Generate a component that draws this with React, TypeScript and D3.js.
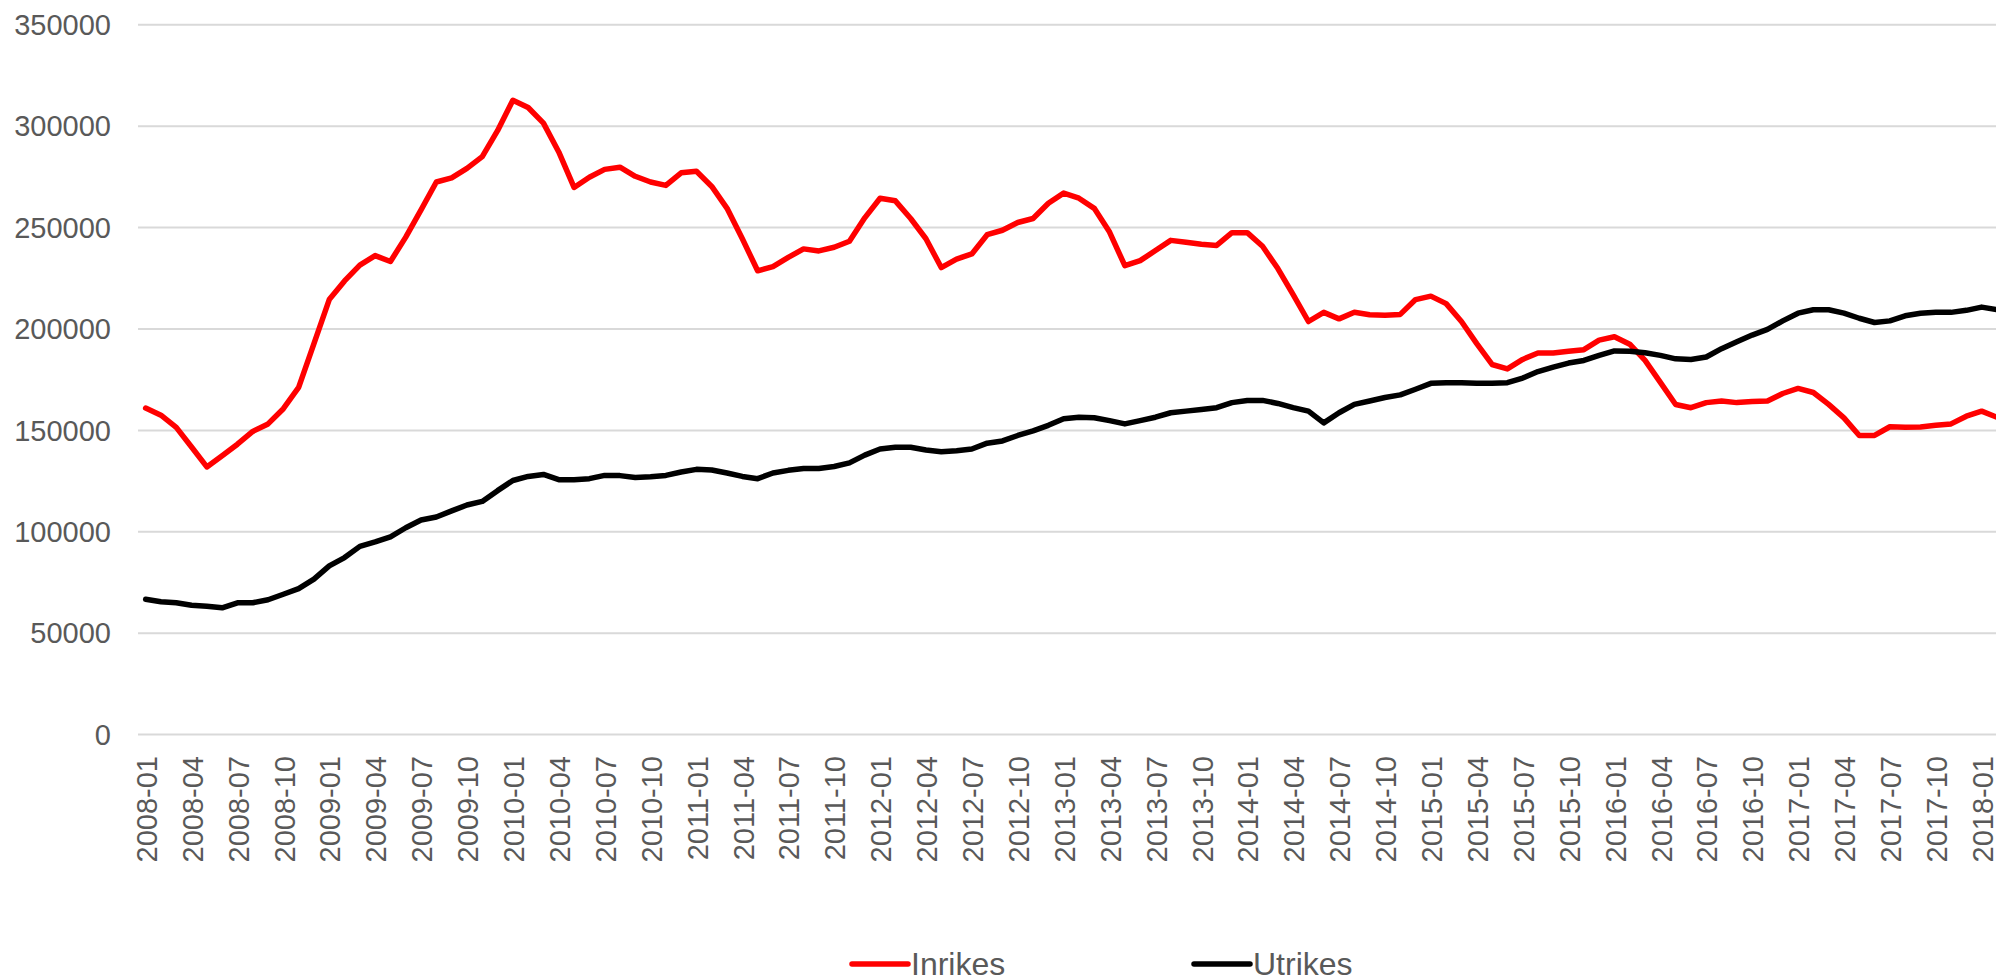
import React from "react";
import * as d3 from "d3";

const startYear = 2008;
const months: string[] = d3.range(122).map((i) => {
  const y = startYear + Math.floor(i / 12);
  const m = (i % 12) + 1;
  return `${y}-${m < 10 ? "0" + m : m}`;
});

const inrikes: number[] = [
  161000, 157500, 151500, 141800, 132000, 137500, 143200, 149500, 153200, 160700, 171200, 192800,
  214500, 223700, 231500, 236200, 233300, 245300, 258700, 272500, 274500, 279200, 285000, 297800,
  312800, 309200, 301500, 287300, 269800, 274800, 278700, 279800, 275300, 272500, 270800, 277000,
  277800, 270300, 259500, 244500, 228700, 230800, 235300, 239500, 238500, 240300, 243300, 254800,
  264500, 263200, 254500, 244500, 230300, 234500, 237000, 246500, 248700, 252500, 254500, 262000,
  267000, 264500, 259500, 247800, 231200, 233700, 238700, 243700, 242800, 241800, 241200, 247500,
  247500, 240800, 229800, 217000, 203700, 208200, 205000, 208300, 207000, 206800, 207200, 214500,
  216200, 212500, 203700, 192800, 182500, 180300, 185000, 188200, 188200, 189000, 189800, 194500,
  196200, 192500, 184500, 173700, 162800, 161200, 163700, 164500, 163700, 164200, 164500, 168200,
  170700, 168700, 162800, 156200, 147500, 147500, 151800, 151500, 151700, 152500, 153200, 157000,
  159500, 156500,
];

const utrikes: number[] = [
  66700, 65500, 65000, 63800, 63300, 62500, 65000, 65000, 66500, 69200, 72000, 76700,
  83200, 87300, 92800, 95000, 97500, 102000, 105800, 107300, 110300, 113200, 115000, 120300,
  125300, 127300, 128300, 125700, 125700, 126200, 127800, 127700, 126800, 127200, 127800, 129500,
  130800, 130500, 129000, 127300, 126200, 129000, 130300, 131200, 131200, 132200, 134000, 137800,
  140800, 141700, 141700, 140300, 139500, 140000, 140800, 143700, 144800, 147500, 149800, 152500,
  155700, 156500, 156200, 154800, 153200, 154800, 156500, 158700, 159500, 160300, 161200, 163700,
  164700, 164800, 163300, 161200, 159500, 153700, 158700, 162800, 164500, 166200, 167500, 170300,
  173200, 173500, 173500, 173200, 173200, 173500, 175800, 179000, 181200, 183200, 184500, 187000,
  189200, 189000, 188300, 187000, 185300, 185000, 186200, 190300, 193700, 197000, 199800, 204000,
  207800, 209500, 209500, 207800, 205300, 203200, 204000, 206500, 207800, 208200, 208200, 209200,
  210800, 209500,
];

const yTicks = [0, 50000, 100000, 150000, 200000, 250000, 300000, 350000];
const seriesNames = ["Inrikes", "Utrikes"];
const seriesColors = ["#ff0000", "#000000"];

const W = 1996;
const H = 980;
const FONT = "'Liberation Sans', Arial, Helvetica, sans-serif";
const TEXT = "#595959";

export default function App() {
  const plotLeft = 138;
  const band = 15.3;
  const x = d3
    .scaleBand<string>()
    .domain(months)
    .range([plotLeft, plotLeft + months.length * band])
    .paddingInner(0)
    .paddingOuter(0);
  const cx = (m: string) => (x(m) as number) + x.bandwidth() / 2;
  const y = d3.scaleLinear().domain([0, 350000]).range([734.6, 24.8]);

  const line = d3
    .line<number>()
    .x((_, i) => cx(months[i]))
    .y((d) => y(d));

  const series = [inrikes, utrikes];
  const tickMonths = months.filter((_, i) => i % 3 === 0);

  return (
    <svg
      width={W}
      height={H}
      style={{ position: "absolute", left: 0, top: 0, display: "block", background: "#fff" }}
      fontFamily={FONT}
    >
      <rect x={0} y={0} width={W} height={H} fill="#ffffff" />
      {yTicks.map((t) => (
        <g key={t}>
          <line x1={plotLeft} x2={W} y1={y(t)} y2={y(t)} stroke="#d9d9d9" strokeWidth={2} />
          <text x={111} y={y(t)} dy="0.35em" textAnchor="end" fontSize={29} fill={TEXT}>
            {t}
          </text>
        </g>
      ))}
      {tickMonths.map((m) => (
        <text
          key={m}
          transform={`translate(${cx(m) + 1},756) rotate(-90)`}
          dy="0.35em"
          textAnchor="end"
          fontSize={29}
          fill={TEXT}
        >
          {m}
        </text>
      ))}
      {series.map((s, k) => (
        <path
          key={k}
          d={line(s) || ""}
          fill="none"
          stroke={seriesColors[k]}
          strokeWidth={5.5}
          strokeLinejoin="round"
          strokeLinecap="round"
        />
      ))}
      {seriesNames.map((n, k) => {
        const lx = k === 0 ? 852 : 1194;
        return (
          <g key={n}>
            <line x1={lx} x2={lx + 56} y1={964} y2={964} stroke={seriesColors[k]} strokeWidth={5.5} strokeLinecap="round" />
            <text x={lx + 59} y={964} dy="0.35em" fontSize={32} fill={TEXT}>
              {n}
            </text>
          </g>
        );
      })}
    </svg>
  );
}
